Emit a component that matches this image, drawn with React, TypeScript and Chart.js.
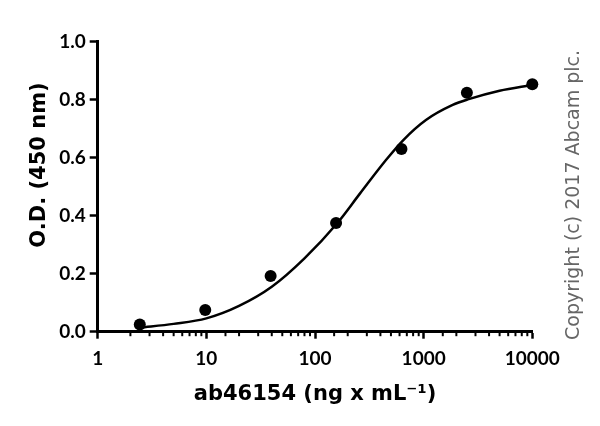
import { useEffect, useRef } from "react"
import { Chart, registerables } from "chart.js"

Chart.register(...registerables)

// measured points (4-fold dilution series)
const concentrations = [2.44, 9.77, 39.06, 156.25, 625, 2500, 10000]
const odValues = [0.025, 0.075, 0.192, 0.375, 0.63, 0.824, 0.853]

// fitted curve
const fitX = [2.44, 5, 10, 20, 40, 80, 160, 260, 450, 650, 1050, 1850, 2550, 5000, 10000]
const fitY = [0.014, 0.027, 0.046, 0.089, 0.155, 0.253, 0.374, 0.477, 0.592, 0.661, 0.73, 0.782, 0.801, 0.831, 0.851]

const yTicks = [0, 0.2, 0.4, 0.6, 0.8, 1.0]
const xMajorTicks = [1, 10, 100, 1000, 10000]

const xTitle = "ab46154 (ng x mL⁻¹)"
const yTitle = "O.D. (450 nm)"
const copyright = "Copyright (c) 2017 Abcam plc."

const titleFont = "'DejaVu Sans', sans-serif"
const tickFont = "Lato, 'DejaVu Sans', sans-serif"

const minorTicks = {
  id: "minorTicks",
  afterDraw(chart: any) {
    const s = chart.scales.x
    const ctx = chart.ctx
    ctx.save()
    ctx.strokeStyle = "#000"
    ctx.lineWidth = 2
    s.ticks.forEach((t: any) => {
      if (xMajorTicks.includes(t.value)) return
      const px = s.getPixelForValue(t.value)
      ctx.beginPath()
      ctx.moveTo(px, s.top)
      ctx.lineTo(px, s.top + 4.5)
      ctx.stroke()
    })
    ctx.restore()
  },
}

const sideTexts = {
  id: "sideTexts",
  afterDraw(chart: any) {
    const ctx = chart.ctx
    ctx.save()
    // y axis title
    ctx.translate(45, 165)
    ctx.rotate(-Math.PI / 2)
    ctx.font = `bold 21px ${titleFont}`
    ctx.fillStyle = "#000"
    ctx.textAlign = "center"
    ctx.textBaseline = "alphabetic"
    ctx.fillText(yTitle, 0, 0)
    ctx.restore()

    // copyright note
    ctx.save()
    ctx.translate(579, 340)
    ctx.rotate(-Math.PI / 2)
    ctx.font = `19px ${titleFont}`
    ctx.fillStyle = "#666"
    ctx.textAlign = "left"
    ctx.textBaseline = "alphabetic"
    ctx.fillText(copyright, 0, 0)
    ctx.restore()
  },
}

export default function App() {
  const chartRef = useRef<HTMLCanvasElement>(null)
  const chartInstance = useRef<Chart | null>(null)

  useEffect(() => {
    if (!chartRef.current) return
    if (chartInstance.current) chartInstance.current.destroy()

    const ctx = chartRef.current.getContext("2d")
    if (!ctx) return

    chartInstance.current = new Chart(ctx, {
      type: "scatter",
      data: {
        datasets: [
          {
            type: "scatter",
            label: "O.D.",
            data: concentrations.map((c, i) => ({ x: c, y: odValues[i] })),
            pointRadius: 6,
            pointHoverRadius: 6,
            backgroundColor: "#000",
            borderColor: "#000",
            borderWidth: 0,
            clip: false,
            order: 0,
          },
          {
            type: "line",
            label: "Fit",
            data: fitX.map((x, i) => ({ x, y: fitY[i] })),
            borderColor: "#000",
            borderWidth: 2.5,
            pointRadius: 0,
            cubicInterpolationMode: "monotone",
            fill: false,
            clip: false,
            order: 1,
          },
        ],
      } as any,
      options: {
        animation: false,
        responsive: true,
        maintainAspectRatio: false,
        layout: { padding: { left: 0, right: 67.7, top: 41.7, bottom: 0 } },
        plugins: {
          legend: { display: false },
          tooltip: { enabled: false },
        },
        scales: {
          x: {
            type: "logarithmic",
            position: "bottom",
            min: 1,
            max: 10000,
            border: { display: true, color: "#000", width: 3 },
            grid: {
              drawOnChartArea: false,
              drawTicks: true,
              tickLength: 7,
              tickWidth: 2.5,
              tickColor: (c: any) => (c.tick && xMajorTicks.includes(c.tick.value) ? "#000" : "rgba(0,0,0,0)"),
            },
            ticks: {
              autoSkip: false,
              maxRotation: 0,
              padding: 9,
              color: "#000",
              font: { family: tickFont, weight: "bold", size: 19 },
              callback: (v: any) => (xMajorTicks.includes(Number(v)) ? String(v) : ""),
            },
            title: {
              display: true,
              text: xTitle,
              color: "#000",
              font: { family: titleFont, weight: "bold", size: 21 },
              padding: { top: 0, bottom: 19 },
            },
            afterFit: (s: any) => {
              s.height = 94.3
            },
          },
          y: {
            min: 0,
            max: 1,
            border: { display: true, color: "#000", width: 3 },
            grid: {
              drawOnChartArea: false,
              drawTicks: true,
              tickLength: 8,
              tickWidth: 2.5,
              tickColor: "#000",
            },
            ticks: {
              padding: 4,
              color: "#000",
              font: { family: tickFont, weight: "bold", size: 19 },
              callback: (v: any) => Number(v).toFixed(1),
            },
            afterBuildTicks: (s: any) => {
              s.ticks = yTicks.map((v) => ({ value: v }))
            },
            afterFit: (s: any) => {
              s.width = 97.7
            },
          },
        },
      } as any,
      plugins: [minorTicks, sideTexts],
    })

    return () => {
      if (chartInstance.current) {
        chartInstance.current.destroy()
        chartInstance.current = null
      }
    }
  }, [])

  return (
    <div style={{ position: "absolute", left: 0, top: 0, width: 600, height: 426, background: "#fff" }}>
      <canvas ref={chartRef}></canvas>
    </div>
  )
}
